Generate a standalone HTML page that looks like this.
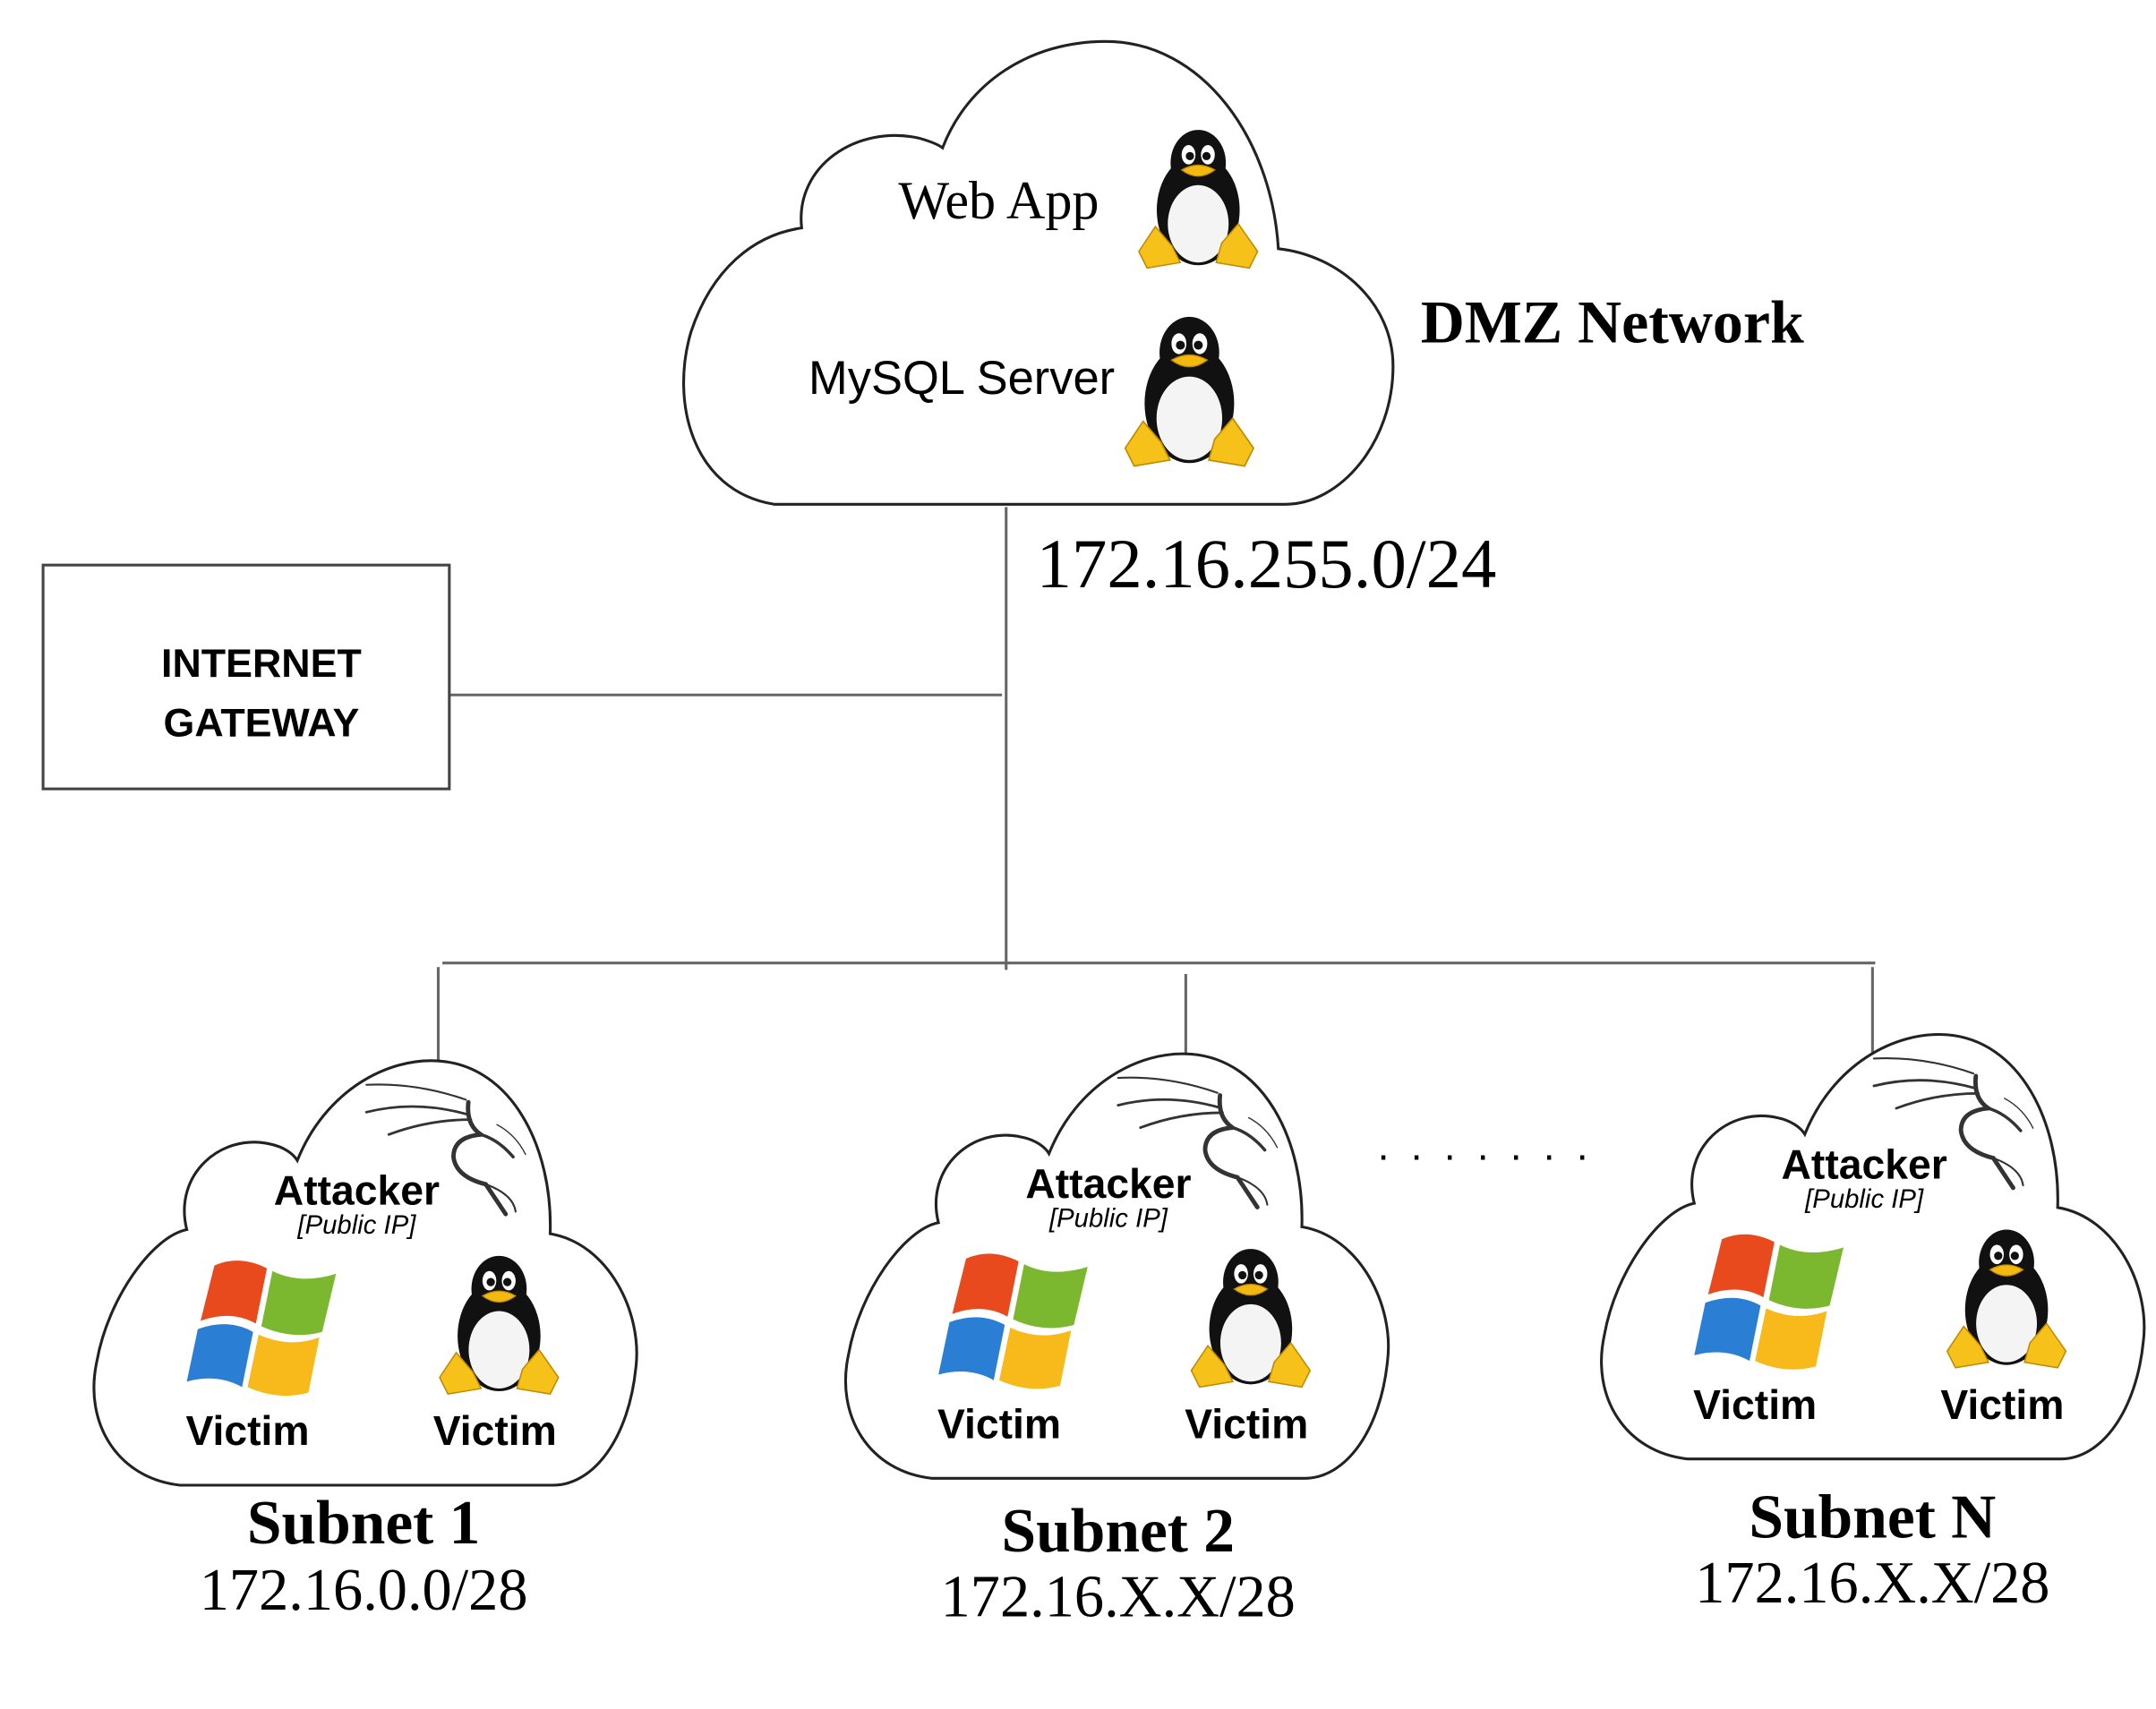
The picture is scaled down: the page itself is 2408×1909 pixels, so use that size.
<!DOCTYPE html>
<html><head><meta charset="utf-8"><style>
html,body{margin:0;padding:0;background:#fff}
svg{display:block}
.serif{font-family:"Liberation Serif",serif}
.sans{font-family:"Liberation Sans","DejaVu Sans",sans-serif}
</style></head><body>
<svg width="2408" height="1909" viewBox="0 0 1560 1237" xmlns="http://www.w3.org/2000/svg">
<defs>
<g id="peng">
  <ellipse cx="45" cy="62" rx="30" ry="40" fill="#111"/>
  <ellipse cx="45" cy="28" rx="20" ry="24" fill="#111"/>
  <ellipse cx="45" cy="72" rx="22" ry="28" fill="#f4f4f4"/>
  <ellipse cx="38" cy="22" rx="5" ry="7" fill="#fff"/><circle cx="39" cy="23" r="3" fill="#111"/>
  <ellipse cx="52" cy="22" rx="5" ry="7" fill="#fff"/><circle cx="51" cy="23" r="3" fill="#111"/>
  <path d="M33,33 Q45,26 57,33 Q45,42 33,33Z" fill="#f2b90f" stroke="#b8860b" stroke-width="0.8"/>
  <path d="M2,92 L14,74 L26,88 L32,100 L8,104 Z" fill="#f6c21a" stroke="#c08a00" stroke-width="1"/>
  <path d="M88,92 L74,72 L62,86 L58,100 L82,104 Z" fill="#f6c21a" stroke="#c08a00" stroke-width="1"/>
</g>
<g id="win">
  <path d="M20,8 Q38,0 58,10 L50,50 Q32,40 10,48 Z" fill="#e8491d"/>
  <path d="M62,12 Q82,22 108,14 L98,56 Q76,62 54,52 Z" fill="#7cb82f"/>
  <path d="M8,54 Q30,46 48,56 L40,96 Q22,86 0,92 Z" fill="#2a7fd4"/>
  <path d="M52,58 Q74,68 96,60 L88,100 Q66,106 44,96 Z" fill="#f8b91a"/>
</g>
<g id="kali" fill="none" stroke="#333" stroke-linecap="round">
  <path d="M0,8 Q40,6 80,20" stroke-width="1.5"/>
  <path d="M0,30 Q40,20 82,32" stroke-width="2"/>
  <path d="M18,48 Q50,36 84,36" stroke-width="2"/>
  <path d="M82,22 Q80,40 92,48 Q70,50 70,66 Q72,82 96,88 Q104,100 112,112" stroke-width="3.5"/>
  <path d="M92,48 Q106,52 118,66" stroke-width="2.5"/>
  <path d="M105,40 Q120,48 128,64" stroke-width="1"/>
  <path d="M96,88 Q118,96 120,110" stroke-width="1.5"/>
</g>
<g id="sub">
  <path d="M130,1075 C85,1070 60,1030 70,985 C78,940 110,895 135,890 C125,850 160,820 195,828 C205,830 212,835 215,840 C235,790 280,765 318,768 C370,772 400,830 398,893 C440,900 465,950 460,990 C455,1040 430,1075 400,1075 Z" fill="#fff" stroke="#222" stroke-width="2"/>
  <use href="#kali" transform="translate(265,778) scale(0.9)"/>
  <text x="258" y="872" class="sans" font-size="30" font-weight="bold" text-anchor="middle">Attacker</text>
  <text x="258" y="893" class="sans" font-size="19" font-style="italic" text-anchor="middle">[Public IP]</text>
  <use href="#win" transform="translate(135,908)"/>
  <use href="#peng" transform="translate(316,905)"/>
  <text x="179" y="1046" class="sans" font-size="30" font-weight="bold" text-anchor="middle">Victim</text>
  <text x="358" y="1046" class="sans" font-size="30" font-weight="bold" text-anchor="middle">Victim</text>
</g>
</defs>

<g stroke="#666" stroke-width="2" fill="none">
<line x1="325" y1="503" x2="725" y2="503"/>
<line x1="728" y1="367" x2="728" y2="702"/>
<line x1="320" y1="697" x2="1357" y2="697"/>
<line x1="317" y1="700" x2="317" y2="770"/>
<line x1="858" y1="705" x2="858" y2="766"/>
<line x1="1355" y1="700" x2="1355" y2="766"/>
</g>

<path d="M560,365 C500,355 485,290 500,240 C515,195 545,170 580,165 C575,120 620,90 665,100 C672,102 678,104 682,107 C700,60 745,30 800,30 C870,30 920,100 925,180 C970,185 1008,220 1008,265 C1008,320 970,365 930,365 Z" fill="#fff" stroke="#222" stroke-width="2"/>
<text x="650" y="158" class="serif" font-size="39">Web App</text>
<text x="585" y="285" class="sans" font-size="34">MySQL Server</text>
<use href="#peng" transform="translate(822,90)"/>
<use href="#peng" transform="translate(812,225) scale(1.08)"/>
<text x="1028" y="248" class="serif" font-size="44" font-weight="bold">DMZ Network</text>
<text x="750" y="425" class="serif" font-size="51">172.16.255.0/24</text>

<rect x="31" y="409" width="294" height="162" fill="#fff" stroke="#444" stroke-width="2"/>
<text x="189" y="490" class="sans" font-size="29" font-weight="bold" text-anchor="middle">INTERNET</text>
<text x="189" y="533" class="sans" font-size="29" font-weight="bold" text-anchor="middle">GATEWAY</text>

<use href="#sub"/>
<use href="#sub" transform="translate(544,-5)"/>
<use href="#sub" transform="translate(1091,-19)"/>

<text x="1080" y="846" class="sans" font-size="30" text-anchor="middle" letter-spacing="14">·······</text>

<text x="263" y="1117" class="serif" font-size="45" font-weight="bold" text-anchor="middle">Subnet 1</text>
<text x="263" y="1165" class="serif" font-size="43" text-anchor="middle">172.16.0.0/28</text>
<text x="809" y="1123" class="serif" font-size="45" font-weight="bold" text-anchor="middle">Subnet 2</text>
<text x="809" y="1170" class="serif" font-size="43" text-anchor="middle">172.16.X.X/28</text>
<text x="1355" y="1113" class="serif" font-size="45" font-weight="bold" text-anchor="middle">Subnet N</text>
<text x="1355" y="1160" class="serif" font-size="43" text-anchor="middle">172.16.X.X/28</text>
</svg>
</body></html>
